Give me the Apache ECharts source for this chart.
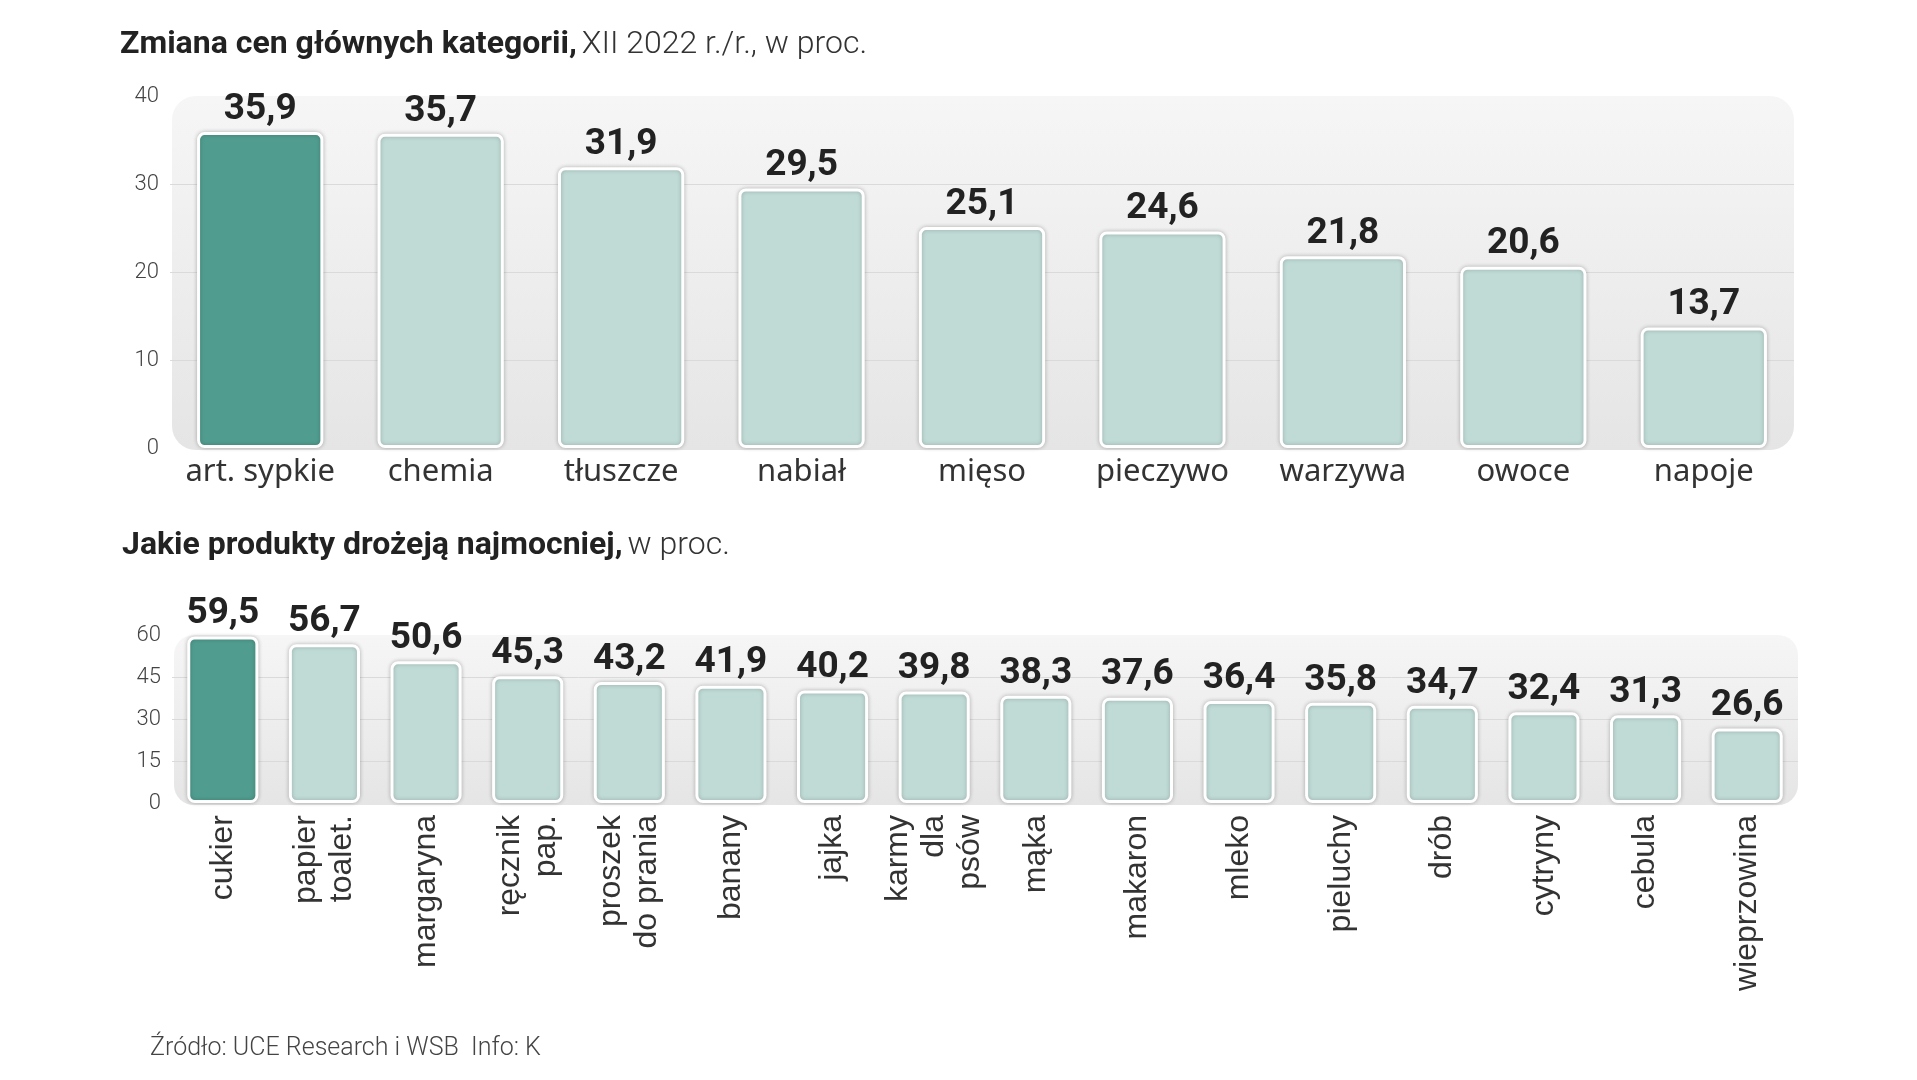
<!DOCTYPE html>
<html>
<head>
<meta charset="utf-8">
<script src="https://cdn.jsdelivr.net/npm/echarts@6/dist/echarts.min.js"></script>
<style>
  html, body { margin: 0; padding: 0; background: #fff; }
  #chart { width: 1917px; height: 1080px; }
</style>
</head>
<body>
<div id="chart"></div>
<script>
// dane — górny wykres
const categoriesTop = ['art. sypkie', 'chemia', 'tłuszcze', 'nabiał', 'mięso', 'pieczywo', 'warzywa', 'owoce', 'napoje'];
const valuesTop = [35.9, 35.7, 31.9, 29.5, 25.1, 24.6, 21.8, 20.6, 13.7];
const ticksTop = { min: 0, max: 40, interval: 10 };

// dane — dolny wykres
const categoriesBottom = ['cukier', 'papier\ntoalet.', 'margaryna', 'ręcznik\npap.', 'proszek\ndo prania', 'banany',
  'jajka', 'karmy\ndla\npsów', 'mąka', 'makaron', 'mleko', 'pieluchy', 'drób', 'cytryny', 'cebula', 'wieprzowina'];
const valuesBottom = [59.5, 56.7, 50.6, 45.3, 43.2, 41.9, 40.2, 39.8, 38.3, 37.6, 36.4, 35.8, 34.7, 32.4, 31.3, 26.6];
const ticksBottom = { min: 0, max: 60, interval: 15 };

const W = 1917;
const DARK = '#509d8f';
const LIGHT = '#c0dbd6';

const grid1 = { left: 170, right: 123, top: 96, height: 352 };
const grid2 = { left: 172, right: 119, top: 635, height: 168 };

const fmt = v => v.toFixed(1).replace('.', ',');

function barData(vals) {
  return vals.map((v, i) => ({
    value: v,
    itemStyle: { color: i === 0 ? DARK : LIGHT },
  }));
}

// szare tło pod słupkami (zaokrąglony prostokąt z gradientem)
function panel(g, r) {
  return {
    type: 'rect',
    z: -10,
    shape: { x: g.left + 2, y: g.top, width: W - g.left - g.right - 2, height: g.height + 2, r: r },
    style: {
      fill: new echarts.graphic.LinearGradient(0, 0, 0, 1, [
        { offset: 0, color: '#f6f6f6' },
        { offset: 1, color: '#e5e5e5' },
      ]),
    },
  };
}

const valueLabel = {
  show: true,
  position: 'top',
  distance: 4,
  formatter: p => fmt(p.value),
  fontFamily: 'Roboto',
  fontWeight: 'bold',
  fontSize: 37,
  color: '#222',
};

const barItem = {
  borderColor: '#fff',
  borderWidth: 3,
  borderRadius: 6,
  shadowColor: 'rgba(0,0,0,0.22)',
  shadowBlur: 4,
};

const yLabel = { fontFamily: 'Roboto', fontWeight: 300, fontSize: 22, color: '#444', margin: 11 };
// linie siatki tylko wewnątrz panelu: pierwsza (0) i ostatnia (max) ukryte
const NONE = 'rgba(0,0,0,0)';
const GRID_LINE = '#dadada';
const splitLine = { show: true, lineStyle: { color: [NONE, GRID_LINE, GRID_LINE, GRID_LINE, NONE], width: 1 } };

const titleRich = {
  b: { fontFamily: 'Roboto', fontWeight: 'bold', fontSize: 32, color: '#222', lineHeight: 38 },
  l: { fontFamily: 'Roboto', fontWeight: 300, fontSize: 32, color: '#333', lineHeight: 38 },
};

const chart = echarts.init(document.getElementById('chart'));
chart.setOption({
  animation: false,
  title: [
    {
      text: '{b|Zmiana cen głównych kategorii,} {l|XII 2022 r./r., w proc.}',
      left: 115, top: 21,
      textStyle: { rich: titleRich },
    },
    {
      text: '{b|Jakie produkty drożeją najmocniej,} {l|w proc.}',
      left: 117, top: 522,
      textStyle: { rich: titleRich },
    },
    {
      text: 'Źródło: UCE Research i WSB  Info: K',
      left: 145, top: 1030,
      textStyle: { fontFamily: 'Roboto', fontWeight: 300, fontSize: 25, color: '#444', lineHeight: 28 },
    },
  ],
  graphic: [panel(grid1, 24), panel(grid2, 20)],
  grid: [grid1, grid2],
  xAxis: [
    {
      type: 'category', gridIndex: 0, data: categoriesTop,
      axisLine: { show: false }, axisTick: { show: false },
      axisLabel: { interval: 0, margin: 9, fontFamily: 'Noto Sans', fontSize: 31, color: '#333' },
    },
    {
      type: 'category', gridIndex: 1, data: categoriesBottom,
      axisLine: { show: false }, axisTick: { show: false },
      axisLabel: {
        interval: 0, rotate: 90, margin: 12,
        fontFamily: 'Liberation Sans', fontSize: 32, lineHeight: 36, color: '#333',
      },
    },
  ],
  yAxis: [
    {
      type: 'value', gridIndex: 0, z: 1, ...ticksTop,
      axisLine: { show: false }, axisTick: { show: false },
      axisLabel: yLabel, splitLine: splitLine,
    },
    {
      type: 'value', gridIndex: 1, z: 1, ...ticksBottom,
      axisLine: { show: false }, axisTick: { show: false },
      axisLabel: yLabel, splitLine: splitLine,
    },
  ],
  series: [
    {
      type: 'bar', xAxisIndex: 0, yAxisIndex: 0, z: 3,
      barCategoryGap: '30%',
      data: barData(valuesTop),
      itemStyle: barItem,
      label: valueLabel,
    },
    {
      type: 'bar', xAxisIndex: 1, yAxisIndex: 1, z: 3,
      barCategoryGap: '30%',
      data: barData(valuesBottom),
      itemStyle: barItem,
      label: valueLabel,
    },
  ],
});
</script>
</body>
</html>
